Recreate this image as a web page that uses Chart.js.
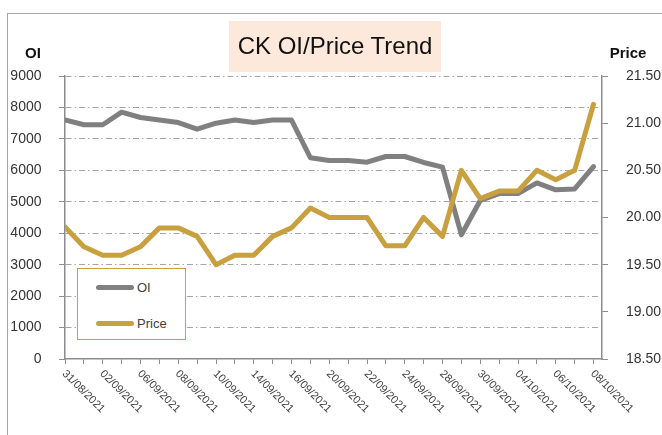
<!DOCTYPE html>
<html>
<head>
<meta charset="utf-8">
<script src="https://cdn.jsdelivr.net/npm/chart.js@4/dist/chart.umd.min.js"></script>
<style>
  html, body { margin: 0; padding: 0; background: #fff; overflow: hidden; }
  #wrap { position: relative; width: 662px; height: 435px; font-family: "Liberation Sans", Arial, sans-serif; overflow: hidden; }
  #frame { position: absolute; left: 7px; top: 13px; width: 800px; height: 600px; border: 1px solid #a6a6a6; }
  #chart { position: absolute; left: 0; top: 0; }
  #title { position: absolute; left: 229px; top: 21px; width: 212px; height: 51px; background: #fde9db; }
  #title span { position: absolute; left: 0; top: 12.7px; width: 212px; text-align: center; font-size: 24px; line-height: 24px; color: #111; white-space: nowrap; }
  .axt { position: absolute; font-size: 15px; line-height: 15px; font-weight: bold; color: #111; text-align: center; top: 45.3px; }
  #legend { position: absolute; left: 77px; top: 268px; width: 107px; height: 70px; border: 1px solid #c8a040; background: #fff; }
  .sw { position: absolute; left: 18px; width: 38px; height: 5px; border-radius: 2.5px; }
  .lt { position: absolute; left: 59px; font-size: 13px; line-height: 13px; color: #404040; white-space: nowrap; }
</style>
</head>
<body>
<div id="wrap">
  <div id="frame"></div>
  <canvas id="chart" width="662" height="435"></canvas>
  <div id="title"><span id="titleText"></span></div>
  <div class="axt" id="leftTitle" style="left:20px;width:26px;"></div>
  <div class="axt" id="rightTitle" style="left:600px;width:56px;"></div>
  <div id="legend">
    <div class="sw" id="sw0" style="top:15.5px;"></div>
    <div class="lt" id="lt0" style="top:11.7px;"></div>
    <div class="sw" id="sw1" style="top:51.5px;"></div>
    <div class="lt" id="lt1" style="top:47.7px;"></div>
  </div>
</div>
<script>
// ---------- data ----------
const chartTitle = "CK OI/Price Trend";
const leftAxisTitle = "OI";
const rightAxisTitle = "Price";
const seriesNames = ["OI", "Price"];

const dates = [
  "31/08/2021", "01/09/2021", "02/09/2021", "03/09/2021", "06/09/2021", "07/09/2021",
  "08/09/2021", "09/09/2021", "10/09/2021", "13/09/2021", "14/09/2021", "15/09/2021",
  "16/09/2021", "17/09/2021", "20/09/2021", "21/09/2021", "22/09/2021", "23/09/2021",
  "24/09/2021", "27/09/2021", "28/09/2021", "29/09/2021", "30/09/2021", "01/10/2021",
  "04/10/2021", "05/10/2021", "06/10/2021", "07/10/2021", "08/10/2021"
];

const oiValues = [
  7600, 7450, 7450, 7850, 7680, 7600,
  7520, 7310, 7500, 7600, 7520, 7600,
  7600, 6400, 6310, 6310, 6260, 6440,
  6440, 6250, 6100, 3950, 5040, 5260,
  5260, 5600, 5380, 5410, 6120
];

const priceValues = [
  19.90, 19.69, 19.60, 19.60, 19.69, 19.89,
  19.89, 19.80, 19.50, 19.60, 19.60, 19.80,
  19.89, 20.10, 20.00, 20.00, 20.00, 19.70,
  19.70, 20.00, 19.80, 20.50, 20.20, 20.28,
  20.28, 20.50, 20.40, 20.50, 21.20
];

const oiAxis = { min: 0, max: 9000, step: 1000 };
const priceAxis = { min: 18.5, max: 21.5, step: 0.5 };

// ---------- styles ----------
const oiColor = "#808080";
const priceColor = "#c8a040";
const axisColor = "#8c8c8c";
const gridColor = "#a6a6a6";
const tickFont = { family: "'Liberation Sans', Arial, sans-serif", size: 14 };

document.getElementById("titleText").textContent = chartTitle;
document.getElementById("leftTitle").textContent = leftAxisTitle;
document.getElementById("rightTitle").textContent = rightAxisTitle;
document.getElementById("lt0").textContent = seriesNames[0];
document.getElementById("lt1").textContent = seriesNames[1];
document.getElementById("sw0").style.background = oiColor;
document.getElementById("sw1").style.background = priceColor;

const xLabelPlugin = {
  id: "xLabels",
  afterDraw(chart) {
    const s = chart.scales.x;
    const ctx = chart.ctx;
    ctx.save();
    ctx.font = "11px 'Liberation Sans', Arial, sans-serif";
    ctx.fillStyle = "#404040";
    ctx.textAlign = "left";
    ctx.textBaseline = "middle";
    s.ticks.forEach((t) => {
      const idx = Math.round(t.value);
      const label = t.label || (idx % 2 === 0 ? dates[idx] : "");
      if (!label) return;
      const x = s.getPixelForValue(t.value);
      ctx.save();
      ctx.translate(x - 1, s.top + 13);
      ctx.rotate(Math.PI / 4);
      ctx.fillText(label, 0, 0);
      ctx.restore();
    });
    ctx.restore();
  }
};

new Chart(document.getElementById("chart"), {
  type: "line",
  data: {
    datasets: [
      {
        label: seriesNames[0],
        data: oiValues.map((v, i) => ({ x: i, y: v })),
        yAxisID: "y",
        borderColor: oiColor,
        backgroundColor: oiColor,
        borderWidth: 5,
        pointRadius: 0,
        tension: 0,
        borderJoinStyle: "round",
        borderCapStyle: "round",
        order: 1
      },
      {
        label: seriesNames[1],
        data: priceValues.map((v, i) => ({ x: i, y: v })),
        yAxisID: "y1",
        borderColor: priceColor,
        backgroundColor: priceColor,
        borderWidth: 5,
        pointRadius: 0,
        tension: 0,
        borderJoinStyle: "round",
        borderCapStyle: "round",
        order: 0
      }
    ]
  },
  options: {
    responsive: false,
    devicePixelRatio: 1,
    animation: false,
    layout: { padding: { top: 76, left: 0, right: 0, bottom: 0 } },
    plugins: { legend: { display: false }, tooltip: { enabled: false }, title: { display: false } },
    scales: {
      x: {
        type: "linear",
        min: 0,
        max: dates.length - 1 + 0.45,
        afterFit: (s) => { s.height = 76; },
        ticks: {
          display: false,
          stepSize: 1,
          includeBounds: false,
          autoSkip: false,
          callback: (v) => (Number.isInteger(v) && v % 2 === 0 ? dates[v] : "")
        },
        grid: { drawOnChartArea: false, drawTicks: true, tickLength: 5, color: axisColor, tickColor: axisColor, tickBorderDash: [] },
        border: { display: true, color: axisColor, width: 1.5 }
      },
      y: {
        position: "left",
        min: oiAxis.min,
        max: oiAxis.max,
        afterFit: (s) => { s.width = 65; },
        ticks: { stepSize: oiAxis.step, padding: 17.5, color: "#333", font: tickFont, callback: (v) => String(v) },
        grid: {
          color: (c) => (c.tick && c.tick.value === 0 ? "rgba(0,0,0,0)" : gridColor),
          lineWidth: 1,
          drawTicks: true,
          tickLength: 6,
          tickColor: axisColor,
          tickBorderDash: []
        },
        border: { display: true, color: axisColor, width: 1.5, dash: [6, 3, 1.5, 3] }
      },
      y1: {
        position: "right",
        min: priceAxis.min,
        max: priceAxis.max,
        afterFit: (s) => { s.width = 60; },
        ticks: { stepSize: priceAxis.step, padding: 18, color: "#333", font: tickFont, callback: (v) => Number(v).toFixed(2) },
        grid: { drawOnChartArea: false, drawTicks: true, tickLength: 6, color: axisColor, tickColor: axisColor },
        border: { display: true, color: axisColor, width: 1.5 }
      }
    }
  },
  plugins: [xLabelPlugin]
});
</script>
</body>
</html>
